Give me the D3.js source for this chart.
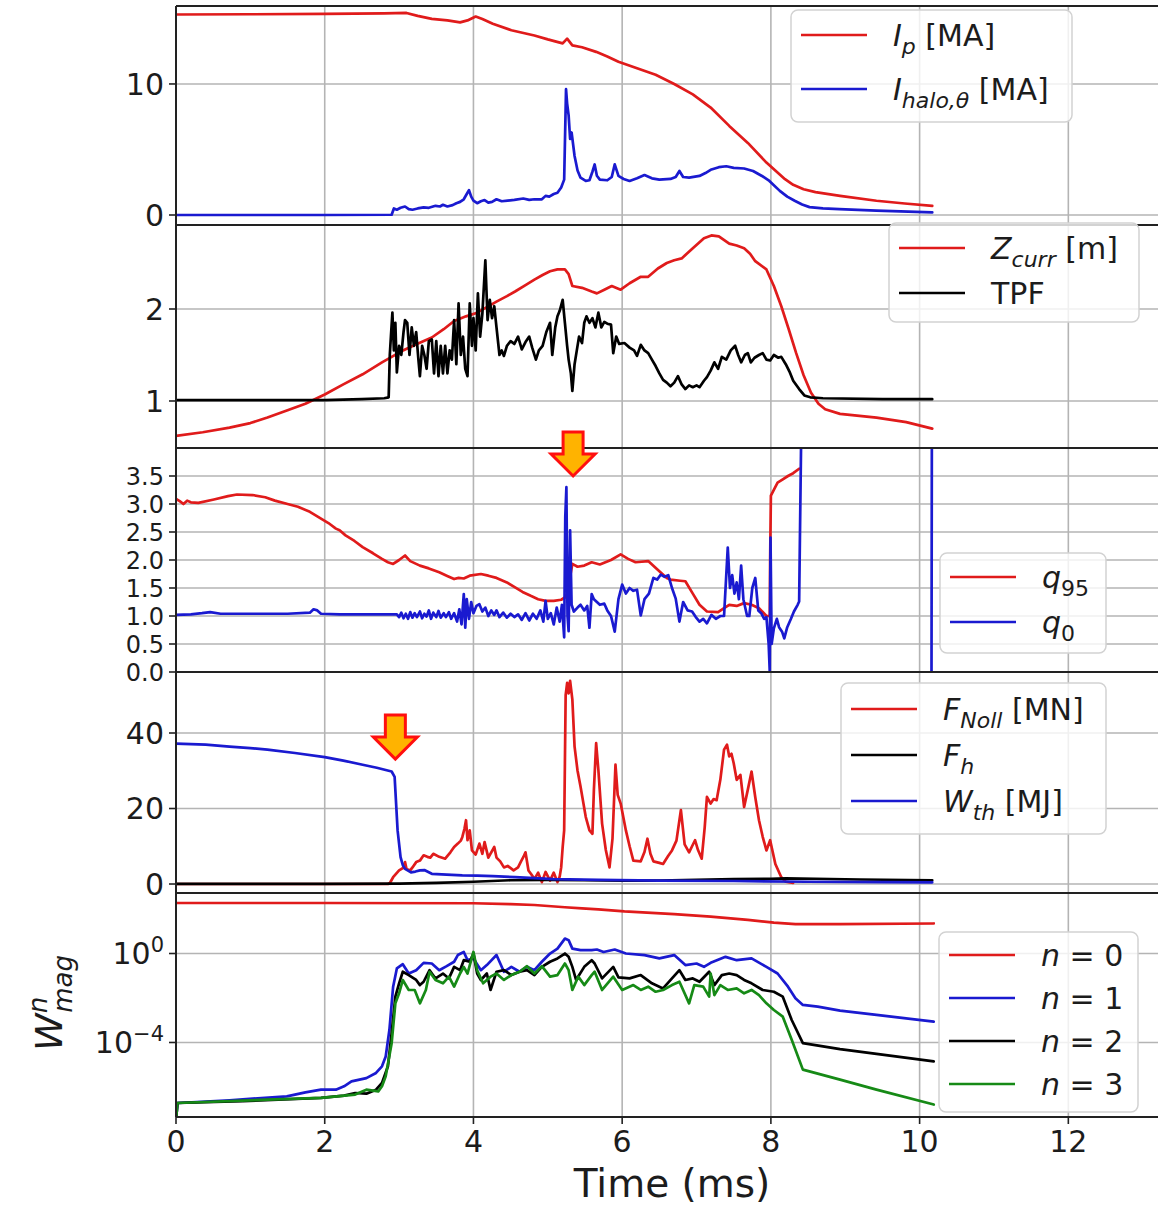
<!DOCTYPE html>
<html>
<head>
<meta charset="utf-8">
<script src="https://cdn.jsdelivr.net/npm/d3@7"></script>
<style>
  html, body { margin: 0; padding: 0; background: #fff; }
  svg { display: block; font-family: "DejaVu Sans", sans-serif; }
</style>
</head>
<body>
<svg id="chart" width="1158" height="1206"></svg>
<script>
// ---- time axis ----
const timeTicks = [0, 2, 4, 6, 8, 10, 12];

// ---- panel 1: plasma current and poloidal halo current [MA] ----
const ipSeries = [[0,15.3],[1,15.32],[2,15.35],[2.8,15.38],[3.1,15.42],[3.25,15.2],[3.44,14.97],[3.65,14.85],[3.82,14.7],[3.92,14.85],[4.03,15.15],[4.12,14.95],[4.26,14.6],[4.51,14.1],[4.82,13.7],[5.0,13.4],[5.2,13.1],[5.26,13.46],[5.33,12.95],[5.46,12.8],[5.65,12.45],[5.8,12.1],[5.95,11.7],[6.2,11.2],[6.45,10.7],[6.7,10.0],[6.95,9.2],[7.19,8.2],[7.44,6.8],[7.69,5.5],[7.94,4.0],[8.19,2.73],[8.3,2.3],[8.44,1.97],[8.6,1.75],[8.93,1.46],[9.42,1.09],[9.8,0.88],[10.17,0.7]];
const haloSeries = [[0,0],[1,0],[2,0],[2.9,0.02],[2.93,0.5],[2.97,0.4],[3.02,0.55],[3.08,0.65],[3.13,0.45],[3.18,0.4],[3.25,0.5],[3.33,0.58],[3.4,0.55],[3.49,0.7],[3.55,0.65],[3.59,0.78],[3.65,0.65],[3.72,0.75],[3.77,0.9],[3.82,1.0],[3.87,1.2],[3.91,1.6],[3.94,1.9],[3.97,1.4],[4.0,1.1],[4.05,0.9],[4.1,1.05],[4.15,1.14],[4.2,0.95],[4.25,1.0],[4.31,1.2],[4.38,1.05],[4.46,1.1],[4.55,1.15],[4.67,1.26],[4.75,1.15],[4.82,1.2],[4.92,1.2],[4.97,1.46],[5.02,1.4],[5.08,1.6],[5.13,1.7],[5.18,2.1],[5.22,2.7],[5.245,9.6],[5.26,8.5],[5.28,7.6],[5.3,5.8],[5.32,6.3],[5.36,4.5],[5.4,3.4],[5.44,2.85],[5.51,2.6],[5.56,2.65],[5.6,3.3],[5.63,3.86],[5.66,3.0],[5.7,2.7],[5.8,2.65],[5.86,2.9],[5.9,3.86],[5.95,2.98],[6.02,2.75],[6.1,2.6],[6.2,2.8],[6.3,3.05],[6.4,2.8],[6.5,2.7],[6.65,2.75],[6.72,2.9],[6.77,3.36],[6.82,2.9],[6.9,2.85],[7.04,2.98],[7.12,3.2],[7.19,3.45],[7.3,3.65],[7.4,3.72],[7.5,3.6],[7.64,3.55],[7.76,3.36],[7.88,2.98],[7.98,2.6],[8.12,1.84],[8.22,1.4],[8.32,1.09],[8.42,0.8],[8.52,0.6],[8.7,0.5],[8.92,0.45],[9.42,0.33],[10.17,0.2]];
const panel1Ticks = [0, 10];

// ---- panel 2: vertical current centroid [m] and toroidal peaking factor ----
const zcurrSeries = [[0,0.62],[0.36,0.66],[0.72,0.71],[1.0,0.76],[1.23,0.82],[1.5,0.9],[1.74,0.97],[2.0,1.07],[2.25,1.18],[2.51,1.29],[2.77,1.42],[3.03,1.54],[3.24,1.62],[3.44,1.69],[3.6,1.78],[3.74,1.87],[3.9,1.92],[4.05,1.96],[4.18,2.02],[4.31,2.08],[4.45,2.14],[4.56,2.19],[4.7,2.26],[4.82,2.32],[4.93,2.37],[5.03,2.41],[5.13,2.43],[5.23,2.43],[5.28,2.38],[5.33,2.25],[5.46,2.23],[5.59,2.19],[5.66,2.17],[5.76,2.21],[5.86,2.25],[5.98,2.21],[6.1,2.28],[6.25,2.35],[6.35,2.35],[6.48,2.44],[6.6,2.5],[6.7,2.53],[6.8,2.55],[6.95,2.66],[7.1,2.77],[7.2,2.8],[7.3,2.79],[7.44,2.71],[7.54,2.69],[7.64,2.66],[7.72,2.6],[7.79,2.52],[7.94,2.43],[8.04,2.25],[8.14,2.03],[8.24,1.78],[8.34,1.52],[8.44,1.28],[8.54,1.09],[8.64,0.97],[8.73,0.91],[8.93,0.86],[9.42,0.82],[9.82,0.77],[10.17,0.7]];
const tpfSeries = [[0,1.01],[1,1.01],[2,1.01],[2.5,1.02],[2.8,1.03],[2.86,1.04],[2.875,1.5],[2.89,1.7],[2.91,1.96],[2.93,1.55],[2.95,1.85],[2.97,1.31],[3.0,1.6],[3.03,1.5],[3.06,1.75],[3.08,1.88],[3.11,1.85],[3.14,1.5],[3.17,1.8],[3.2,1.6],[3.23,1.75],[3.26,1.45],[3.28,1.27],[3.31,1.6],[3.34,1.5],[3.37,1.35],[3.4,1.65],[3.44,1.67],[3.47,1.3],[3.5,1.65],[3.53,1.27],[3.56,1.6],[3.59,1.3],[3.62,1.6],[3.65,1.3],[3.68,1.55],[3.71,1.45],[3.74,1.88],[3.77,1.4],[3.8,2.06],[3.83,1.5],[3.86,1.7],[3.89,1.35],[3.92,1.27],[3.95,2.06],[3.98,1.6],[4.0,1.9],[4.03,1.55],[4.06,2.17],[4.09,1.7],[4.12,1.95],[4.16,2.53],[4.19,1.88],[4.22,2.1],[4.25,1.9],[4.28,2.03],[4.31,1.8],[4.35,1.5],[4.38,1.55],[4.41,1.49],[4.45,1.6],[4.5,1.65],[4.55,1.62],[4.6,1.7],[4.65,1.56],[4.7,1.64],[4.75,1.7],[4.79,1.58],[4.84,1.45],[4.88,1.55],[4.93,1.6],[4.98,1.75],[5.03,1.85],[5.06,1.5],[5.1,1.8],[5.13,1.92],[5.16,1.98],[5.2,2.1],[5.23,1.85],[5.26,1.6],[5.28,1.45],[5.31,1.3],[5.33,1.11],[5.36,1.4],[5.39,1.55],[5.42,1.7],[5.46,1.63],[5.49,1.85],[5.52,1.92],[5.56,1.85],[5.6,1.9],[5.64,1.8],[5.68,1.96],[5.72,1.8],[5.76,1.86],[5.8,1.84],[5.85,1.83],[5.88,1.52],[5.92,1.7],[5.96,1.62],[6.03,1.63],[6.1,1.58],[6.16,1.55],[6.2,1.49],[6.25,1.61],[6.3,1.55],[6.35,1.52],[6.4,1.45],[6.45,1.38],[6.5,1.3],[6.55,1.23],[6.6,1.2],[6.65,1.16],[6.7,1.2],[6.75,1.27],[6.8,1.18],[6.85,1.13],[6.9,1.17],[6.95,1.15],[7.0,1.17],[7.04,1.15],[7.1,1.22],[7.14,1.26],[7.19,1.33],[7.24,1.42],[7.29,1.35],[7.34,1.48],[7.4,1.45],[7.46,1.55],[7.52,1.6],[7.56,1.5],[7.6,1.42],[7.65,1.5],[7.69,1.52],[7.73,1.42],[7.78,1.47],[7.84,1.5],[7.89,1.52],[7.94,1.45],[7.99,1.44],[8.04,1.5],[8.1,1.47],[8.14,1.48],[8.2,1.4],[8.25,1.32],[8.3,1.22],[8.38,1.13],[8.45,1.06],[8.53,1.04],[8.7,1.03],[9.5,1.02],[10.17,1.02]];
const panel2Ticks = [1, 2];

// ---- panel 3: safety factor at the edge (q95) and on axis (q0) ----
const q95Series = [[0,3.09],[0.05,3.05],[0.1,3.0],[0.15,3.06],[0.2,3.03],[0.3,3.02],[0.51,3.08],[0.7,3.14],[0.82,3.17],[1.03,3.16],[1.2,3.12],[1.33,3.06],[1.5,3.0],[1.64,2.95],[1.8,2.86],[1.95,2.74],[2.05,2.66],[2.15,2.56],[2.2,2.53],[2.28,2.44],[2.4,2.34],[2.51,2.23],[2.65,2.12],[2.77,2.02],[2.85,1.96],[2.92,1.93],[3.0,2.0],[3.08,2.08],[3.15,1.98],[3.28,1.9],[3.4,1.85],[3.54,1.78],[3.64,1.72],[3.74,1.66],[3.8,1.68],[3.87,1.67],[3.95,1.72],[4.1,1.75],[4.2,1.72],[4.31,1.68],[4.45,1.6],[4.56,1.51],[4.66,1.43],[4.77,1.36],[4.87,1.3],[4.97,1.27],[5.08,1.27],[5.18,1.29],[5.23,1.33],[5.26,1.4],[5.3,1.7],[5.33,1.93],[5.4,1.88],[5.49,1.9],[5.59,1.96],[5.7,1.92],[5.85,2.0],[5.98,2.1],[6.08,2.02],[6.18,1.96],[6.35,1.98],[6.5,1.8],[6.6,1.68],[6.65,1.65],[6.78,1.63],[6.85,1.62],[6.95,1.4],[7.04,1.2],[7.14,1.08],[7.29,1.07],[7.37,1.14],[7.44,1.2],[7.54,1.18],[7.64,1.23],[7.74,1.2],[7.84,1.14],[7.94,1.0],[7.985,1.0],[7.99,2.0],[8.0,3.15],[8.05,3.28],[8.09,3.38],[8.16,3.44],[8.23,3.5],[8.3,3.55],[8.38,3.63]];
const q0Series = [[0,1.02],[0.2,1.03],[0.35,1.05],[0.46,1.07],[0.6,1.04],[1.0,1.04],[1.5,1.04],[1.8,1.06],[1.85,1.12],[1.9,1.1],[1.95,1.04],[2.2,1.03],[2.77,1.03],[2.97,1.03],[3.0,0.98],[3.03,1.06],[3.06,0.96],[3.09,1.04],[3.12,0.95],[3.15,1.07],[3.18,0.97],[3.21,1.05],[3.24,0.98],[3.28,1.08],[3.31,0.96],[3.34,1.04],[3.37,0.99],[3.4,1.1],[3.43,0.95],[3.46,1.06],[3.5,0.98],[3.53,1.09],[3.56,0.97],[3.6,1.05],[3.63,0.98],[3.67,1.07],[3.7,0.95],[3.74,1.05],[3.78,0.9],[3.81,1.12],[3.84,0.85],[3.87,1.39],[3.89,0.79],[3.91,1.3],[3.94,0.95],[3.97,1.25],[4.0,1.05],[4.04,1.18],[4.08,1.21],[4.12,1.08],[4.16,1.15],[4.2,1.0],[4.24,1.1],[4.28,1.02],[4.31,1.1],[4.35,0.98],[4.4,1.06],[4.45,0.97],[4.5,1.04],[4.55,0.98],[4.6,1.03],[4.65,0.93],[4.7,1.05],[4.75,0.92],[4.8,1.04],[4.85,0.95],[4.9,1.1],[4.94,0.9],[4.97,1.27],[5.0,0.95],[5.04,1.05],[5.08,0.85],[5.12,1.15],[5.16,0.9],[5.19,1.2],[5.22,0.62],[5.235,2.77],[5.25,3.3],[5.265,1.0],[5.28,0.73],[5.3,2.53],[5.32,1.2],[5.35,1.08],[5.4,1.15],[5.44,1.2],[5.49,1.1],[5.53,1.18],[5.56,0.79],[5.59,1.39],[5.62,1.3],[5.66,1.25],[5.7,1.2],[5.76,1.22],[5.8,1.1],[5.85,1.0],[5.9,0.72],[5.95,1.3],[6.0,1.56],[6.05,1.4],[6.1,1.5],[6.15,1.45],[6.2,1.47],[6.25,1.01],[6.3,1.3],[6.36,1.4],[6.42,1.68],[6.47,1.65],[6.52,1.74],[6.57,1.7],[6.62,1.73],[6.67,1.5],[6.72,1.31],[6.77,0.9],[6.82,1.25],[6.88,1.1],[6.94,1.08],[6.99,0.98],[7.04,0.9],[7.09,0.95],[7.14,0.87],[7.2,1.02],[7.26,0.95],[7.32,1.0],[7.37,1.0],[7.42,2.22],[7.45,1.5],[7.48,1.73],[7.51,1.4],[7.54,1.6],[7.57,1.3],[7.6,1.9],[7.63,1.3],[7.68,1.0],[7.71,1.0],[7.75,1.5],[7.79,1.68],[7.83,1.1],[7.87,1.05],[7.91,0.95],[7.94,0.98],[7.97,0.5],[7.985,0.0],[7.995,2.4],[8.01,0.5],[8.04,0.78],[8.08,0.95],[8.11,0.8],[8.15,0.72],[8.18,0.6],[8.22,0.8],[8.27,0.95],[8.31,1.08],[8.36,1.2],[8.38,1.26],[8.41,4.5],[8.42,null],[10.16,null],[10.16,0],[10.165,4.5]];
const panel3Ticks = [0, 0.5, 1.0, 1.5, 2.0, 2.5, 3.0, 3.5];

// ---- panel 4: Noll force [MN], halo force, thermal energy [MJ] ----
const fNollSeries = [[0,0],[2.85,0],[2.88,0.4],[2.92,1.8],[3.0,3.6],[3.05,4.2],[3.08,5.8],[3.1,4.0],[3.15,3.6],[3.18,4.4],[3.23,5.8],[3.28,6.2],[3.33,7.6],[3.38,7.2],[3.42,7.0],[3.46,8.0],[3.54,7.2],[3.62,6.7],[3.69,8.4],[3.74,9.8],[3.79,10.7],[3.83,11.5],[3.85,12.4],[3.88,14.7],[3.9,16.9],[3.92,11.6],[3.95,14.2],[3.98,8.9],[4.03,7.8],[4.08,10.7],[4.12,8.0],[4.15,11.1],[4.2,7.0],[4.28,9.8],[4.31,7.0],[4.36,6.0],[4.41,4.4],[4.46,4.8],[4.54,3.6],[4.6,4.4],[4.64,6.0],[4.67,7.1],[4.7,8.4],[4.74,3.6],[4.78,2.5],[4.82,1.3],[4.87,3.0],[4.92,0.5],[4.97,3.2],[5.03,0.9],[5.08,3.0],[5.13,0.5],[5.16,2.0],[5.18,4.4],[5.2,9.8],[5.22,14.2],[5.24,50.0],[5.26,53.3],[5.28,50.5],[5.3,53.8],[5.33,48.9],[5.36,36.4],[5.4,30.0],[5.44,25.8],[5.51,17.8],[5.56,14.2],[5.6,13.3],[5.62,25],[5.65,37.3],[5.68,30.2],[5.73,16.0],[5.78,9.0],[5.83,4.4],[5.87,12],[5.91,31.6],[5.94,23.6],[5.98,21.3],[6.05,14.2],[6.1,10],[6.15,6.2],[6.25,6.0],[6.3,8.5],[6.34,12.0],[6.38,8.0],[6.42,6.0],[6.5,5.6],[6.55,5.3],[6.62,7.5],[6.67,8.9],[6.73,11.5],[6.79,19.6],[6.84,10.5],[6.9,8.4],[6.94,10],[6.98,11.6],[7.02,9.0],[7.07,6.7],[7.11,15],[7.14,23.1],[7.19,21.3],[7.23,22.5],[7.27,22.2],[7.32,27.6],[7.37,35.6],[7.41,36.9],[7.44,33.8],[7.47,34.5],[7.5,32],[7.54,27.6],[7.59,28.9],[7.64,20.4],[7.69,25],[7.74,29.8],[7.79,23],[7.84,16.9],[7.89,12.5],[7.94,8.9],[7.99,11.6],[8.06,5.3],[8.14,1.8],[8.2,0.6],[8.3,0.3]];
const fHaloSeries = [[0,0.05],[1,0.05],[2,0.05],[3,0.08],[3.5,0.3],[4.0,0.6],[4.5,1.0],[5.0,1.1],[5.5,1.0],[6.0,0.9],[6.5,0.9],[7.0,1.1],[7.5,1.3],[8.0,1.4],[8.2,1.5],[8.6,1.4],[9.2,1.2],[10.17,1.0]];
const wThSeries = [[0,37.2],[0.4,36.9],[0.72,36.4],[1.0,36.0],[1.23,35.6],[1.6,34.7],[2.0,33.6],[2.25,32.7],[2.51,31.6],[2.7,30.8],[2.9,29.8],[2.94,28.4],[2.96,21.3],[2.98,14.2],[3.02,7.1],[3.05,5.0],[3.08,4.0],[3.16,3.1],[3.22,3.3],[3.28,3.6],[3.34,3.7],[3.44,2.7],[3.64,2.5],[3.85,2.3],[4.05,2.2],[4.26,2.1],[4.56,1.8],[5.08,1.3],[5.68,1.1],[6.5,0.9],[7.5,0.8],[8.5,0.6],[9.5,0.5],[10.17,0.45]];
const panel4Ticks = [0, 20, 40];

// ---- panel 5: magnetic energy per toroidal mode n, stored as log10 ----
const wmagN0Log = [[0,2.27],[2,2.27],[4,2.26],[4.5,2.22],[4.82,2.18],[5.23,2.08],[5.46,2.03],[5.68,1.98],[6.03,1.89],[6.7,1.77],[7.19,1.66],[7.69,1.51],[8.04,1.39],[8.33,1.32],[8.93,1.32],[10.19,1.35]];
const wmagN1Log = [[0,-7.5],[0.02,-6.72],[0.72,-6.6],[1.49,-6.42],[1.74,-6.24],[1.95,-6.12],[2.15,-6.12],[2.26,-5.97],[2.36,-5.75],[2.56,-5.6],[2.69,-5.37],[2.77,-5.07],[2.82,-4.63],[2.87,-3.43],[2.92,-1.49],[2.97,-0.67],[3.05,-0.48],[3.13,-0.9],[3.23,-0.75],[3.33,-0.42],[3.44,-0.45],[3.54,-0.75],[3.64,-0.57],[3.74,-0.37],[3.79,-0.07],[3.87,0.07],[3.92,-0.3],[4.0,-0.22],[4.1,-0.75],[4.18,-0.52],[4.31,-0.07],[4.41,-0.82],[4.51,-0.6],[4.62,-0.82],[4.72,-0.6],[4.82,-0.75],[4.92,-0.37],[5.03,0],[5.13,0.22],[5.23,0.67],[5.28,0.6],[5.33,0.22],[5.44,0.15],[5.59,0.15],[5.66,0.18],[5.75,0.07],[5.9,0.18],[6.05,0],[6.3,-0.07],[6.5,-0.22],[6.7,-0.07],[6.85,-0.52],[7.0,-0.45],[7.1,-0.6],[7.19,-0.42],[7.39,-0.15],[7.54,-0.3],[7.74,-0.22],[7.94,-0.6],[8.09,-0.9],[8.23,-1.49],[8.33,-2.01],[8.43,-2.31],[8.63,-2.39],[8.93,-2.57],[9.42,-2.76],[10.19,-3.06]];
const wmagN2Log = [[0,-7.5],[0.02,-6.72],[0.9,-6.64],[1.95,-6.49],[2.26,-6.39],[2.41,-6.27],[2.56,-6.3],[2.69,-6.12],[2.77,-5.82],[2.85,-5.07],[2.9,-3.58],[2.95,-1.94],[3.0,-1.34],[3.05,-0.82],[3.13,-0.97],[3.23,-1.19],[3.28,-1.42],[3.33,-1.27],[3.41,-0.75],[3.49,-1.12],[3.59,-0.9],[3.67,-1.12],[3.74,-0.6],[3.82,-0.75],[3.87,-0.3],[3.95,-0.37],[4.0,0],[4.05,-0.9],[4.1,-1.19],[4.18,-0.9],[4.23,-1.64],[4.31,-0.82],[4.41,-0.75],[4.51,-0.97],[4.62,-0.82],[4.72,-0.75],[4.82,-0.97],[4.92,-0.6],[5.03,-0.37],[5.13,-0.22],[5.23,0],[5.28,-0.15],[5.33,-0.6],[5.38,-1.19],[5.49,-0.6],[5.59,-0.3],[5.63,-0.45],[5.73,-1.12],[5.88,-0.6],[5.95,-1.07],[6.1,-1.12],[6.25,-0.97],[6.4,-1.34],[6.55,-1.57],[6.67,-1.12],[6.77,-0.75],[6.85,-1.19],[6.95,-1.12],[7.04,-1.27],[7.17,-0.82],[7.24,-1.42],[7.34,-0.97],[7.44,-0.9],[7.54,-0.97],[7.64,-1.19],[7.74,-1.34],[7.89,-1.64],[8.04,-1.72],[8.16,-1.94],[8.28,-2.99],[8.43,-4.03],[8.93,-4.3],[9.42,-4.51],[10.19,-4.85]];
const wmagN3Log = [[0,-7.5],[0.02,-6.72],[1.23,-6.57],[1.95,-6.49],[2.41,-6.34],[2.56,-6.12],[2.72,-6.2],[2.77,-5.97],[2.82,-5.52],[2.9,-4.03],[2.95,-2.24],[3.0,-1.79],[3.05,-1.19],[3.13,-1.64],[3.21,-1.64],[3.28,-2.24],[3.36,-1.64],[3.41,-0.82],[3.49,-1.19],[3.59,-1.34],[3.67,-1.04],[3.74,-1.49],[3.82,-0.9],[3.87,-0.6],[3.92,-0.9],[4.0,0.07],[4.05,-0.75],[4.13,-1.34],[4.23,-1.04],[4.31,-0.9],[4.41,-1.19],[4.51,-0.97],[4.62,-0.82],[4.72,-0.57],[4.82,-0.9],[4.92,-0.57],[5.03,-1.04],[5.13,-0.97],[5.23,-0.45],[5.28,-0.75],[5.33,-1.64],[5.41,-1.04],[5.49,-1.42],[5.59,-0.97],[5.63,-0.82],[5.73,-1.64],[5.88,-1.04],[6.0,-1.64],[6.15,-1.42],[6.25,-1.64],[6.35,-1.49],[6.45,-1.72],[6.55,-1.64],[6.67,-1.42],[6.77,-1.27],[6.9,-2.24],[6.97,-1.42],[7.09,-1.49],[7.17,-1.94],[7.19,-0.9],[7.24,-1.87],[7.32,-1.42],[7.42,-1.64],[7.54,-1.57],[7.64,-1.79],[7.74,-1.64],[7.84,-1.87],[7.94,-2.24],[8.04,-2.54],[8.16,-2.84],[8.28,-3.88],[8.43,-5.22],[8.93,-5.67],[9.42,-6.12],[10.19,-6.79]];
const panel5Ticks = [1e-4, 1];
const panel5TickExp = ["\u22124", "0"];

// ---- annotation arrows: [panel index, time, value at tip] ----
const arrowMarks = [[2, 5.34, 3.5], [3, 2.95, 33.1]];

// ---- styling ----
const RED = "#e01b1b", BLUE = "#1a1ad0", BLACK = "#000000", GREEN = "#168a16";
const GRID = "#b4b4b4", SPINE = "#222222", TEXT = "#1c1c1c";
const TICK_FS = 30, LEG_FS = 30;

const svg = d3.select("#chart");
const x = d3.scaleLinear().domain([0, 13.3]).range([176, 1165]);
const plotLeft = 176, plotRight = 1158;

const expPts = arr => arr.map(d => [d[0], Math.pow(10, d[1])]);

const panels = [
  { top: 6, bottom: 225, y: d3.scaleLinear().domain([-0.763, 15.95]).range([225, 6]),
    ticks: panel1Ticks, fmt: d3.format("d"), tickFs: TICK_FS,
    series: [{ data: ipSeries, color: RED }, { data: haloSeries, color: BLUE }],
    legend: { x: 791, y: 10, w: 281, h: 112, first: 25, gap: 54,
      rows: [
        { color: RED, parts: [["I", "i"], ["p", "subi"], [" [MA]", "n"]] },
        { color: BLUE, parts: [["I", "i"], ["halo,\u03b8", "subi"], [" [MA]", "n"]] }
      ] } },
  { top: 225, bottom: 448, y: d3.scaleLinear().domain([0.489, 2.913]).range([448, 225]),
    ticks: panel2Ticks, fmt: d3.format("d"), tickFs: TICK_FS,
    series: [{ data: zcurrSeries, color: RED }, { data: tpfSeries, color: BLACK }],
    legend: { x: 889, y: 223, w: 250, h: 99, first: 25, gap: 45,
      rows: [
        { color: RED, parts: [["Z", "i"], ["curr", "subi"], [" [m]", "n"]] },
        { color: BLACK, parts: [["TPF", "n"]] }
      ] } },
  { top: 448, bottom: 672, y: d3.scaleLinear().domain([0, 4.0]).range([672, 448]),
    ticks: panel3Ticks, fmt: d3.format(".1f"), tickFs: 24,
    series: [{ data: q95Series, color: RED }, { data: q0Series, color: BLUE }],
    legend: { x: 940, y: 553, w: 166, h: 100, first: 24, gap: 45,
      rows: [
        { color: RED, parts: [["q", "i"], ["95", "sub"]] },
        { color: BLUE, parts: [["q", "i"], ["0", "sub"]] }
      ] } },
  { top: 672, bottom: 893, y: d3.scaleLinear().domain([-2.38, 56.16]).range([893, 672]),
    ticks: panel4Ticks, fmt: d3.format("d"), tickFs: TICK_FS,
    series: [{ data: fNollSeries, color: RED }, { data: fHaloSeries, color: BLACK }, { data: wThSeries, color: BLUE }],
    legend: { x: 841, y: 683, w: 265, h: 151, first: 26, gap: 46,
      rows: [
        { color: RED, parts: [["F", "i"], ["Noll", "subi"], [" [MN]", "n"]] },
        { color: BLACK, parts: [["F", "i"], ["h", "subi"]] },
        { color: BLUE, parts: [["W", "i"], ["th", "subi"], [" [MJ]", "n"]] }
      ] } },
  { top: 893, bottom: 1117, y: d3.scaleLog().domain([Math.pow(10, -7.35), Math.pow(10, 2.72)]).range([1117, 893]),
    ticks: panel5Ticks, log: true, tickFs: TICK_FS,
    series: [{ data: expPts(wmagN0Log), color: RED }, { data: expPts(wmagN1Log), color: BLUE },
             { data: expPts(wmagN2Log), color: BLACK }, { data: expPts(wmagN3Log), color: GREEN }],
    legend: { x: 939, y: 932, w: 199, h: 180, first: 23, gap: 43,
      rows: [
        { color: RED, parts: [["n", "i"], [" = 0", "n"]] },
        { color: BLUE, parts: [["n", "i"], [" = 1", "n"]] },
        { color: BLACK, parts: [["n", "i"], [" = 2", "n"]] },
        { color: GREEN, parts: [["n", "i"], [" = 3", "n"]] }
      ] } }
];

const defs = svg.append("defs");

function addLegendText(g, tx, ty, parts, fs) {
  const t = g.append("text").attr("x", tx).attr("y", ty)
    .attr("font-size", fs).attr("fill", TEXT);
  let shift = 0;
  const subShift = Math.round(fs * 0.25);
  parts.forEach(([s, style]) => {
    const sp = t.append("tspan").text(s);
    const isSub = style === "sub" || style === "subi";
    if (style === "i" || style === "subi") sp.attr("font-style", "italic");
    const target = isSub ? subShift : 0;
    if (target !== shift) { sp.attr("dy", target - shift); shift = target; }
    if (isSub) sp.attr("font-size", Math.round(fs * 0.74));
  });
}

panels.forEach((p, i) => {
  const g = svg.append("g");
  const clipId = "clip" + i;
  defs.append("clipPath").attr("id", clipId).append("rect")
    .attr("x", plotLeft).attr("y", p.top).attr("width", plotRight - plotLeft).attr("height", p.bottom - p.top);

  // grid
  const grid = g.append("g").attr("clip-path", `url(#${clipId})`);
  grid.selectAll("line.v").data(timeTicks.filter(t => t > 0)).join("line")
    .attr("x1", d => x(d)).attr("x2", d => x(d)).attr("y1", p.top).attr("y2", p.bottom)
    .attr("stroke", GRID).attr("stroke-width", 1.6);
  grid.selectAll("line.h").data(p.ticks).join("line")
    .attr("x1", plotLeft).attr("x2", plotRight).attr("y1", d => p.y(d)).attr("y2", d => p.y(d))
    .attr("stroke", GRID).attr("stroke-width", 1.6);

  // series
  const lineGen = d3.line().defined(d => d[1] != null)
    .x(d => x(d[0])).y(d => p.y(d[1]));
  const lines = g.append("g").attr("clip-path", `url(#${clipId})`);
  p.series.forEach(s => {
    lines.append("path").attr("d", lineGen(s.data))
      .attr("fill", "none").attr("stroke", s.color).attr("stroke-width", 2.7)
      .attr("stroke-linejoin", "round").attr("stroke-linecap", "round");
  });

  // y ticks + labels
  const ty = g.append("g");
  p.ticks.forEach((v, k) => {
    const yy = p.y(v);
    ty.append("line").attr("x1", plotLeft - 7).attr("x2", plotLeft).attr("y1", yy).attr("y2", yy)
      .attr("stroke", SPINE).attr("stroke-width", 1.6);
    const t = ty.append("text").attr("x", plotLeft - 12).attr("y", yy).attr("dy", "0.36em")
      .attr("text-anchor", "end").attr("font-size", p.tickFs).attr("fill", TEXT);
    if (p.log) {
      t.append("tspan").text("10");
      t.append("tspan").text(panel5TickExp[k]).attr("font-size", 21).attr("dy", -12);
    } else {
      t.text(p.fmt(v));
    }
  });

  // spines
  g.append("line").attr("x1", plotLeft).attr("x2", plotRight).attr("y1", p.top).attr("y2", p.top)
    .attr("stroke", SPINE).attr("stroke-width", 2);
  g.append("line").attr("x1", plotLeft).attr("x2", plotRight).attr("y1", p.bottom).attr("y2", p.bottom)
    .attr("stroke", SPINE).attr("stroke-width", 2);
  g.append("line").attr("x1", plotLeft).attr("x2", plotLeft).attr("y1", p.top).attr("y2", p.bottom)
    .attr("stroke", SPINE).attr("stroke-width", 2);

  // legend
  const L = p.legend;
  const lg = svg.append("g");
  lg.append("rect").attr("x", L.x).attr("y", L.y).attr("width", L.w).attr("height", L.h)
    .attr("rx", 7).attr("fill", "#ffffff").attr("fill-opacity", 0.8)
    .attr("stroke", "#d2d2d2").attr("stroke-width", 1.5);
  L.rows.forEach((r, k) => {
    const ry = L.y + L.first + k * L.gap;
    lg.append("line").attr("x1", L.x + 10).attr("x2", L.x + 76).attr("y1", ry).attr("y2", ry)
      .attr("stroke", r.color).attr("stroke-width", 2.7);
    addLegendText(lg, L.x + 102, ry + 11, r.parts, LEG_FS);
  });
});

// x axis (bottom panel)
const bottomY = panels[panels.length - 1].bottom;
const xa = svg.append("g");
timeTicks.forEach(t => {
  xa.append("line").attr("x1", x(t)).attr("x2", x(t)).attr("y1", bottomY).attr("y2", bottomY + 7)
    .attr("stroke", SPINE).attr("stroke-width", 1.6);
  xa.append("text").attr("x", x(t)).attr("y", bottomY + 35).attr("text-anchor", "middle")
    .attr("font-size", TICK_FS).attr("fill", TEXT).text(d3.format("d")(t));
});
svg.append("text").attr("x", 672).attr("y", 1197).attr("text-anchor", "middle")
  .attr("font-size", 39).attr("fill", TEXT).text("Time (ms)");

// y label of the log panel
const yl = svg.append("text").attr("transform", "translate(62,1003) rotate(-90)")
  .attr("text-anchor", "middle").attr("font-size", 38).attr("fill", TEXT);
yl.append("tspan").text("W").attr("font-style", "italic");
yl.append("tspan").text("n").attr("font-style", "italic").attr("font-size", 26).attr("dy", -15);
yl.append("tspan").text("mag").attr("font-style", "italic").attr("font-size", 26).attr("dx", -16).attr("dy", 25);

// annotation arrows
const arrowShape = [[-10,-44],[10,-44],[10,-22],[22,-22],[0,0],[-22,-22],[-10,-22]];
arrowMarks.forEach(([pi, t, v]) => {
  const px = x(t), py = panels[pi].y(v);
  svg.append("polygon")
    .attr("points", arrowShape.map(([dx, dy]) => `${px + dx},${py + dy}`).join(" "))
    .attr("fill", "#ffb300").attr("stroke", "#ff0f0f").attr("stroke-width", 3)
    .attr("stroke-linejoin", "miter");
});
</script>
</body>
</html>
